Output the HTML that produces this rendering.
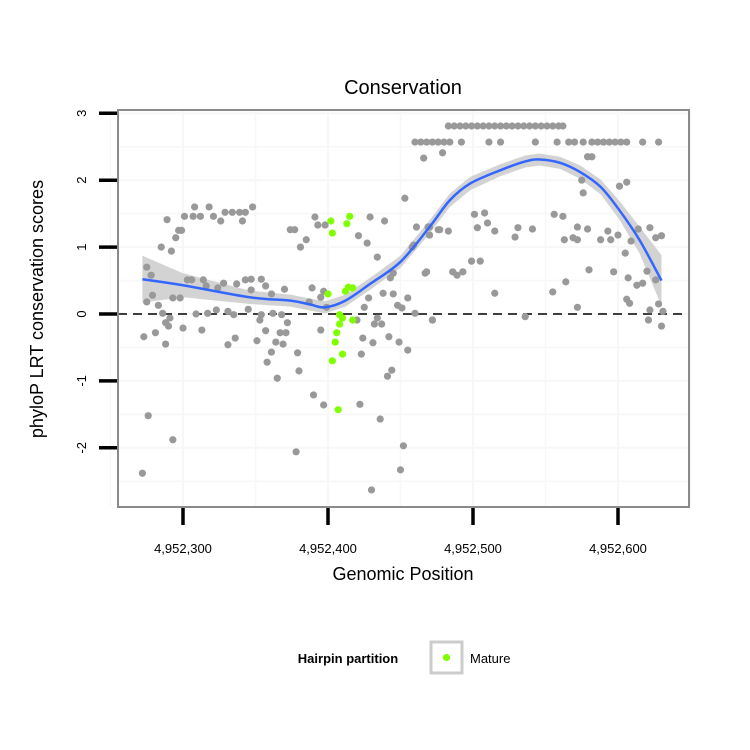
<!DOCTYPE html>
<html><head><meta charset="utf-8"><style>
body{margin:0;background:#fff;}
svg{display:block;font-family:"Liberation Sans",sans-serif;}
</style></head><body>
<svg id="chart" width="750" height="750" viewBox="0 0 750 750">
<text x="403" y="94" text-anchor="middle" font-size="20">Conservation</text>
<g id="grid"></g>
<g id="band"></g>
<line x1="118" x2="689" y1="314" y2="314" stroke="#000" stroke-width="1.6" stroke-dasharray="9,6"/>
<g id="pts"></g>
<g id="line"></g>
<rect x="118" y="110" width="571" height="397" fill="none" stroke="#8a8a8a" stroke-width="2"/>
<g id="axes"></g>
<text x="403" y="580" text-anchor="middle" font-size="18">Genomic Position</text>
<text transform="translate(43,309) rotate(-90)" text-anchor="middle" font-size="18">phyloP LRT conservation scores</text>
<g>
<text x="348" y="663" text-anchor="middle" font-size="13" font-weight="bold">Hairpin partition</text>
<rect x="431" y="642" width="31" height="31" fill="#fff" stroke="#ccc" stroke-width="3"/>
<circle cx="446.5" cy="657.5" r="3.6" fill="#80ff00"/>
<text x="470" y="663" font-size="13">Mature</text>
</g>
</svg>
<script>
const xTicks=[4952300,4952400,4952500,4952600];
const xTickLabels=["4,952,300","4,952,400","4,952,500","4,952,600"];
const yTicks=[3,2,1,0,-1,-2];
const yTickLabels=["3","2","1","0","-1","-2"];
const greyX=[4952308,4952318,4952348,4952301,4952307,4952312,4952321,4952329,4952334,4952339,4952343,4952289,4952326,4952341,4952297,4952299,4952295,4952285,4952292,4952275,4952278,4952303,4952306,4952314,4952316,4952328,4952324,4952337,4952343,4952347,4952354,4952347,4952357,4952361,4952370,4952389,4952279,4952275,4952293,4952298,4952283,4952286,4952291,4952288,4952290,4952300,4952309,4952317,4952323,4952331,4952335,4952345,4952354,4952362,4952368,4952353,4952357,4952367,4952371,4952372,4952364,4952369,4952273,4952281,4952288,4952313,4952331,4952336,4952351,4952361,4952358,4952379,4952380,4952365,4952390,4952276,4952293,4952378,4952272,4952374,4952377,4952385,4952381,4952391,
4952398,4952393,4952429,4952439,4952453,4952421,4952427,4952434,4952461,4952469,4952470,4952477,4952458,4952467,4952445,4952443,4952395,4952397,4952387,4952399,4952428,4952425,4952438,4952445,4952448,4952455,4952451,4952460,4952472,4952420,4952434,4952432,4952437,4952395,4952424,4952431,4952442,4952449,4952455,4952423,4952444,4952441,4952397,4952422,4952436,4952452,4952450,4952430,
4952483,4952487,4952491,4952495,4952499,4952503,4952507,4952511,4952515,4952519,4952523,4952527,4952531,4952535,4952539,4952543,4952547,4952551,4952555,4952559,4952562,
4952460,4952464,4952468,4952472,4952476,4952480,4952484,4952492,4952511,4952519,4952543,4952558,4952566,4952570,4952576,4952582,4952586,4952590,4952594,4952598,4952602,4952606,4952617,4952628,
4952466,4952479,4952579,4952582,4952575,4952576,4952601,4952606,4952501,4952508,4952510,4952503,4952515,4952531,4952529,4952541,4952556,4952562,4952572,4952579,4952593,4952600,4952588,4952595,4952563,4952569,4952572,4952614,4952622,4952626,4952630,4952609,4952605,4952470,4952470,4952476,4952483,4952459,4952499,4952505,4952468,4952486,4952489,4952493,4952515,4952555,4952564,4952580,4952597,4952607,4952613,4952617,4952620,4952626,4952606,4952608,4952572,4952628,4952622,4952631,4952621,4952630,4952536,4952472];
const greyY=[1.60,1.60,1.60,1.46,1.46,1.46,1.46,1.52,1.52,1.52,1.52,1.41,1.39,1.39,1.25,1.25,1.14,1.00,0.94,0.70,0.58,0.51,0.51,0.51,0.42,0.46,0.39,0.45,0.51,0.52,0.52,0.36,0.42,0.30,0.37,0.39,0.28,0.18,0.24,0.24,0.13,0.01,-0.06,-0.13,-0.18,-0.21,0,0.01,0.06,0.04,-0.01,0.07,-0.01,0.01,-0.01,-0.09,-0.25,-0.28,-0.28,-0.13,-0.42,-0.45,-0.34,-0.28,-0.45,-0.24,-0.46,-0.36,-0.40,-0.57,-0.72,-0.58,-0.85,-0.96,-1.21,-1.52,-1.88,-2.06,-2.38,1.26,1.26,1.11,1.00,1.45,
1.33,1.33,1.45,1.39,1.73,1.17,1.06,0.85,1.30,1.30,1.18,1.26,1.00,0.61,0.61,0.54,0.25,0.34,0.18,0.10,0.24,0.10,0.31,0.30,0.13,0.24,0.09,0.01,-0.09,-0.09,-0.06,-0.15,-0.15,-0.24,-0.36,-0.43,-0.34,-0.42,-0.54,-0.60,-0.84,-0.93,-1.36,-1.35,-1.57,-1.97,-2.33,-2.63,
2.81,2.81,2.81,2.81,2.81,2.81,2.81,2.81,2.81,2.81,2.81,2.81,2.81,2.81,2.81,2.81,2.81,2.81,2.81,2.81,2.81,
2.57,2.57,2.57,2.57,2.57,2.57,2.57,2.57,2.57,2.57,2.57,2.57,2.57,2.57,2.57,2.57,2.57,2.57,2.57,2.57,2.57,2.57,2.57,2.57,
2.33,2.41,2.35,2.35,2.00,1.81,1.91,1.97,1.49,1.51,1.36,1.29,1.24,1.29,1.15,1.27,1.49,1.46,1.30,1.27,1.24,1.18,1.11,1.11,1.11,1.14,1.11,1.27,1.29,1.14,1.17,1.09,0.91,1.30,1.18,1.26,1.24,1.03,0.79,0.79,0.63,0.63,0.58,0.63,0.31,0.33,0.48,0.66,0.63,0.54,0.43,0.46,0.64,0.51,0.22,0.16,0.10,0.15,0.06,0.04,-0.09,-0.18,-0.04,-0.09];
const greenX=[4952402,4952415,4952413,4952403,4952400,4952414,4952417,4952412,4952408,4952410,4952417,4952408,4952406,4952405,4952410,4952403,4952407];
const greenY=[1.39,1.46,1.35,1.21,0.30,0.40,0.39,0.34,-0.01,-0.06,-0.09,-0.15,-0.28,-0.42,-0.60,-0.70,-1.43];
const smoothX=[4952272,4952300,4952346,4952374,4952388,4952398,4952412,4952429,4952450,4952470,4952484,4952498,4952519,4952536,4952546,4952560,4952574,4952588,4952601,4952615,4952630];
const smoothY=[0.52,0.43,0.25,0.20,0.14,0.10,0.20,0.45,0.78,1.30,1.70,1.95,2.15,2.28,2.31,2.26,2.12,1.90,1.55,1.10,0.50];
const smoothSE=[0.35,0.18,0.10,0.09,0.09,0.09,0.09,0.09,0.09,0.10,0.10,0.10,0.09,0.09,0.09,0.09,0.10,0.11,0.14,0.20,0.38];

const NS='http://www.w3.org/2000/svg';
const sx=v=>183+(v-4952300)*1.45;
const sy=v=>314-v*66.9;
function mk(tag,attrs,parent){const e=document.createElementNS(NS,tag);for(const k in attrs)e.setAttribute(k,attrs[k]);parent.appendChild(e);return e;}
const grid=document.getElementById('grid');
const gridXs=[4952250,4952300,4952350,4952400,4952450,4952500,4952550,4952600,4952650];
gridXs.forEach((v,i)=>{const e=mk('line',{x1:sx(v),x2:sx(v),y1:111,y2:506,stroke:'#f7f7f7','stroke-width':i%2?2:1.5},grid);

});
for(let v=-2.5;v<=3;v+=0.5){const e=mk('line',{x1:119,x2:688,y1:sy(v),y2:sy(v),stroke:'#f7f7f7','stroke-width':Number.isInteger(v)?2:1.5},grid);

}
const bandTop=smoothX.map((x,i)=>sx(x)+','+sy(smoothY[i]+smoothSE[i]));
const bandBot=smoothX.map((x,i)=>sx(x)+','+sy(smoothY[i]-smoothSE[i])).reverse();
const band=mk('polygon',{points:bandTop.concat(bandBot).join(' '),fill:'#d3d3d3'},document.getElementById('band'));


const pts=document.getElementById('pts');
const nGrey=Math.min(greyX.length,greyY.length);
for(let i=0;i<nGrey;i++){const c=mk('circle',{cx:sx(greyX[i]),cy:sy(greyY[i]),r:3.6,fill:'#999'},pts);

}
greenX.forEach((x,i)=>{const c=mk('circle',{cx:sx(x),cy:sy(greenY[i]),r:3.6,fill:'#80ff00'},pts);

});
const P=smoothX.map((x,i)=>[sx(x),sy(smoothY[i])]);
let pathD='M'+P[0].join(',');
for(let i=0;i<P.length-1;i++){const p0=P[Math.max(0,i-1)],p1=P[i],p2=P[i+1],p3=P[Math.min(P.length-1,i+2)];
pathD+=' C'+(p1[0]+(p2[0]-p0[0])/6)+','+(p1[1]+(p2[1]-p0[1])/6)+' '+(p2[0]-(p3[0]-p1[0])/6)+','+(p2[1]-(p3[1]-p1[1])/6)+' '+p2[0]+','+p2[1];}
const ln=mk('path',{d:pathD,fill:'none',stroke:'#3366ff','stroke-width':2.5},document.getElementById('line'));


const axes=document.getElementById('axes');
xTicks.forEach((v,i)=>{const t=mk('line',{x1:sx(v),x2:sx(v),y1:508,y2:525,stroke:'#000','stroke-width':3.5},axes);


const l=mk('text',{x:sx(v),y:553,'text-anchor':'middle','font-size':13},axes);l.textContent=xTickLabels[i];

});
yTicks.forEach((v,i)=>{const t=mk('line',{x1:99,x2:117,y1:sy(v),y2:sy(v),stroke:'#000','stroke-width':3.5},axes);


const l=mk('text',{transform:'translate(86,'+sy(v)+') rotate(-90)','text-anchor':'middle','font-size':13},axes);l.textContent=yTickLabels[i];

});
</script>
</body></html>
